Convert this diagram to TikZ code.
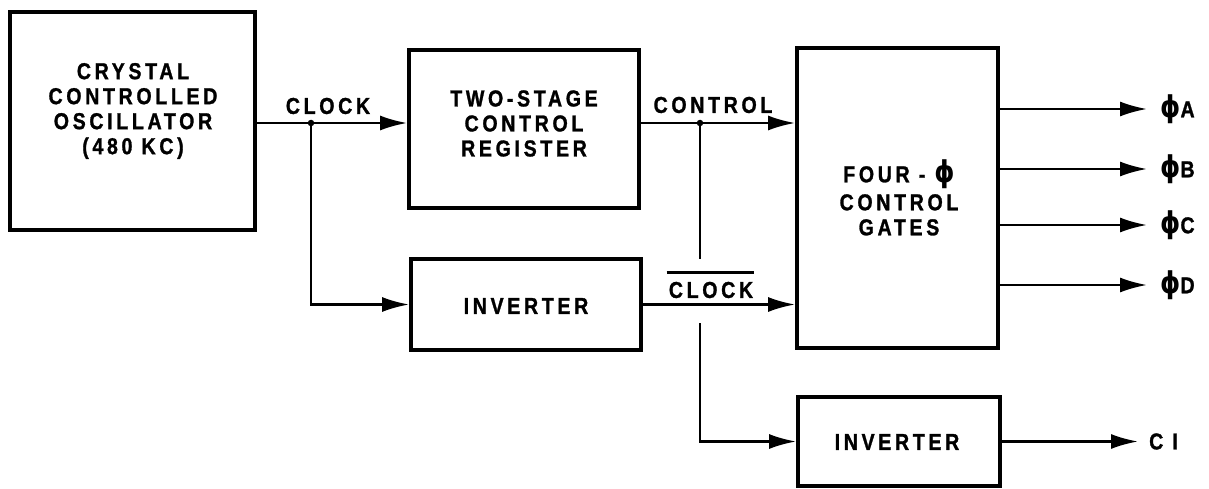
\documentclass[tikz,border=0pt]{standalone}
\usepackage{fontspec}
\usetikzlibrary{arrows.meta}
\setmainfont{Liberation Sans}
\newfontfamily\lab{Liberation Sans}[LetterSpace=16,FakeStretch=0.85,FakeBold=1.2]
\newfontfamily\phif{DejaVu Sans}[FakeStretch=0.85]
\newcommand{\ph}{{\phif\bfseries\fontsize{30}{30}\selectfont ϕ}}
\begin{document}
\begin{tikzpicture}[x=1pt,y=-1pt,
  box/.style={draw, line width=3.8pt, inner sep=0pt},
  lbl/.style={inner sep=0pt, align=center, font=\lab\bfseries\fontsize{23}{25}\selectfont},
  wire/.style={line width=2.4pt},
  arr/.style={line width=2.4pt, -{Latex[length=27pt,width=15pt]}},
  dot/.style={fill, circle, inner sep=0pt, minimum size=6.5pt}
]
\useasboundingbox[fill=white] (0,0) rectangle (1209,489);

% boxes
\node[box, minimum width=245pt, minimum height=218pt] (osc) at (132.5,121) {};
\node[box, minimum width=230pt, minimum height=158pt] (reg) at (524,129) {};
\node[box, minimum width=230pt, minimum height=91pt] (inv1) at (526,304.5) {};
\node[box, minimum width=201pt, minimum height=300pt] (gates) at (897.5,198) {};
\node[box, minimum width=202pt, minimum height=89pt] (inv2) at (899,441.5) {};

% box texts
\node[lbl] (osct) at (133,111) {CRYSTAL\\CONTROLLED\\OSCILLATOR\\(480 KC)};
\node[lbl] (regt) at (524,123.5) {TWO-STAGE\\CONTROL\\REGISTER};
\node[lbl] (inv1t) at (526,306) {INVERTER};
\node[lbl] (gatest) at (899,197.5) {FOUR - \ph\\[3pt]CONTROL\\GATES};
\node[lbl] (inv2t) at (897,442) {INVERTER};

% junctions
\coordinate (j1) at (311,123);
\coordinate (j2) at (700,123);
\coordinate (g1) at (700,259);
\coordinate (g2) at (700,323);

% clock path
\draw[wire] (osc.east |- j1) -- (j1);
\draw[arr] (j1) -- (reg.west |- j1);
\draw[arr] (j1) |- (inv1.west);
\node[dot] (d1) at (j1) {};
\node[lbl] (clk) at (328,106) {CLOCK};

% control path
\draw[wire] (reg.east |- j2) -- (j2);
\draw[arr] (j2) -- (gates.west |- j2);
\draw[wire] (j2) -- (g1);
\draw[arr] (g2) |- (inv2.west);
\node[dot] (d2) at (j2) {};
\node[lbl] (ctl) at (713,105) {CONTROL};

% clock bar
\draw[arr] (inv1.east) -- (gates.west |- inv1.east);
\node[lbl] (cbar) at (711,290) {CLOCK};
\draw[wire] ([xshift=-2pt,yshift=9pt]cbar.north west) -- ([xshift=1pt,yshift=9pt]cbar.north east);

% outputs
\coordinate (oA) at (1147,109);
\coordinate (oB) at (1147,169);
\coordinate (oC) at (1147,225);
\coordinate (oD) at (1147,285);
\coordinate (oE) at (1138,441.5);
\draw[arr] (gates.east |- oA) -- (oA);
\draw[arr] (gates.east |- oB) -- (oB);
\draw[arr] (gates.east |- oC) -- (oC);
\draw[arr] (gates.east |- oD) -- (oD);
\draw[arr] (inv2.east) -- (oE);
\node[lbl, anchor=west] (lA) at (1160,109) {\ph A};
\node[lbl, anchor=west] (lB) at (1160,169) {\ph B};
\node[lbl, anchor=west] (lC) at (1160,225) {\ph C};
\node[lbl, anchor=west] (lD) at (1160,285) {\ph D};
\node[lbl, anchor=west] (lE) at (1149,441.5) {C I};
\end{tikzpicture}
\end{document}
